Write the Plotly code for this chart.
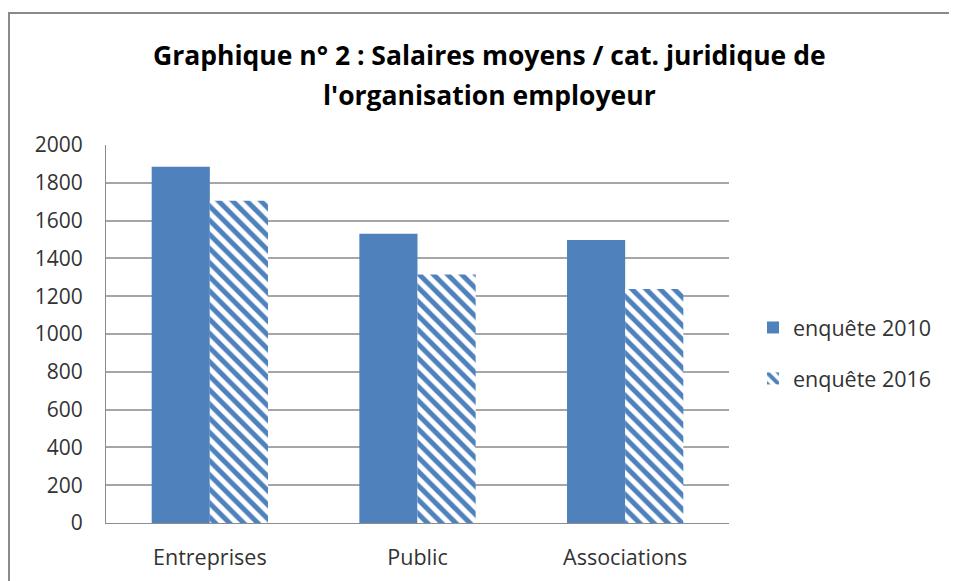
import plotly.graph_objects as go

categories = ["Entreprises", "Public", "Associations"]
enquete_2010 = [1885, 1530, 1497]
enquete_2016 = [1705, 1315, 1238]
series_names = ["enquête 2010", "enquête 2016"]
y_ticks = [0, 200, 400, 600, 800, 1000, 1200, 1400, 1600, 1800, 2000]
title_lines = ["Graphique n° 2 : Salaires moyens / cat. juridique de",
               "l'organisation employeur"]

BLUE = "#4F81BD"
FONT = "Open Sans"
OFF = 8  # page body margin

fig = go.Figure()
fig.add_trace(go.Bar(
    x=categories, y=enquete_2010, name=series_names[0],
    marker=dict(color=BLUE, line=dict(width=0)),
    legendgroup="a",
))
fig.add_trace(go.Bar(
    x=categories, y=enquete_2016, name=series_names[1],
    marker=dict(color="white", line=dict(width=0),
                pattern=dict(shape="\\", fgcolor=BLUE, bgcolor="white",
                             size=10, solidity=0.5, fillmode="replace")),
    legendgroup="b",
))

W, H = 957 - OFF, 581 - OFF
L, T = 106 - OFF, 145 - OFF
R = W - (729 - OFF)
B = H - (523 - OFF)
pw = W - L - R
ph = H - T - B

annotations = []
for txt, ys in zip(title_lines, [55, 95]):
    annotations.append(dict(
        text="<b>" + txt + "</b>", xref="paper", yref="paper",
        x=(489 - 106) / pw, xanchor="center",
        y=(523 - ys) / ph, yanchor="middle", showarrow=False,
        font=dict(family=FONT, size=26.5, color="#000000"),
    ))

fig.update_layout(
    width=W, height=H,
    margin=dict(l=L, r=R, t=T, b=B, autoexpand=False),
    paper_bgcolor="white", plot_bgcolor="white",
    barmode="group", bargap=0.44, bargroupgap=0,
    font=dict(family=FONT, size=21.5, color="#333333"),
    legend=dict(
        x=(753 - 106) / pw, xanchor="left", y=(523 - 353) / ph, yanchor="middle",
        font=dict(family=FONT, size=21.5, color="#333333"),
        tracegroupgap=20, bgcolor="rgba(0,0,0,0)",
    ),
    xaxis=dict(
        showline=True, linecolor="#8C8C8C", linewidth=1,
        ticks="", showgrid=False, tickfont=dict(size=21.5),
        ticklabelstandoff=15,
    ),
    yaxis=dict(
        range=[0, 2000], tickvals=y_ticks,
        showline=True, linecolor="#8C8C8C", linewidth=1,
        showgrid=True, gridcolor="#A6A6A6", gridwidth=1.5,
        ticks="", zeroline=False, tickfont=dict(size=21),
        ticklabelstandoff=18,
    ),
    annotations=annotations,
    shapes=[dict(
        type="rect", xref="paper", yref="paper",
        x0=(9 - 106) / pw, x1=(970 - 106) / pw,
        y0=-(B + 20) / ph, y1=(523 - 13) / ph,
        line=dict(color="#8A8A8A", width=2), fillcolor="rgba(0,0,0,0)",
        layer="below",
    )],
)

fig.write_html("out.html")
